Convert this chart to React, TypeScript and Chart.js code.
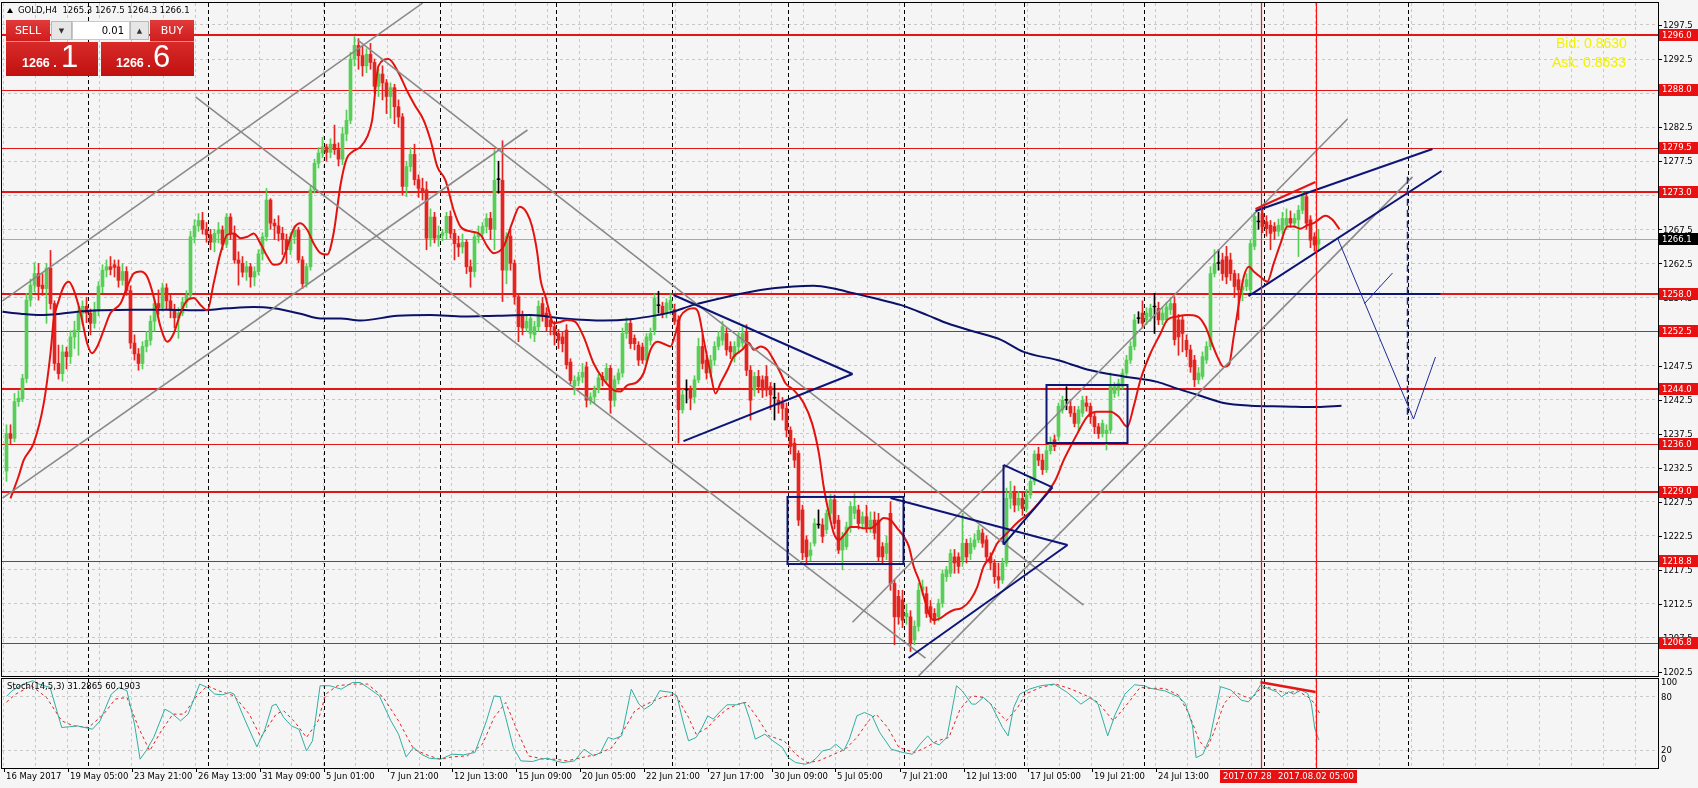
import React, { useEffect, useRef } from 'react';
import { Chart, registerables } from 'chart.js';
Chart.register(...registerables);

// ---------- DATA ----------
// [open, high, low, close] per H4 bar (bar 0 = 16 May 2017 13:00)
const candles: number[][] = [
[1232.0,1238.8,1230.5,1237.5],[1237.5,1238.8,1236.0,1236.8],[1236.8,1243.4,1236.3,1242.2],[1242.2,1243.8,1241.5,1242.7],[1242.6,1246.2,1242.2,1245.6],
[1245.6,1258.1,1245.0,1257.1],[1257.1,1260.2,1256.2,1259.3],[1259.3,1262.6,1258.3,1261.0],[1261.0,1262.5,1257.1,1259.1],[1259.3,1261.0,1257.8,1258.8],
[1258.8,1262.5,1253.7,1261.8],[1261.8,1264.4,1255.8,1256.6],[1256.6,1257.0,1246.8,1247.8],[1247.8,1250.5,1245.5,1246.3],[1246.3,1250.5,1245.2,1249.5],
[1249.5,1250.2,1247.0,1248.8],[1248.8,1252.6,1247.8,1251.7],[1251.7,1254.0,1250.0,1252.7],[1252.7,1256.2,1249.0,1255.2],[1255.2,1257.0,1253.5,1256.2],
[1256.2,1257.5,1253.8,1255.2],[1255.2,1255.8,1252.0,1253.7],[1253.7,1256.8,1253.0,1255.7],[1255.7,1259.8,1254.8,1259.1],[1259.1,1262.3,1258.2,1261.5],
[1261.5,1263.0,1260.5,1262.0],[1262.0,1263.5,1260.8,1261.6],[1262.3,1263.0,1260.5,1261.9],[1262.0,1263.0,1259.0,1260.0],[1260.0,1262.5,1259.3,1261.3],
[1261.3,1262.0,1257.8,1258.5],[1258.5,1259.2,1250.0,1250.8],[1250.8,1252.0,1248.3,1249.2],[1249.2,1250.0,1246.8,1247.8],[1247.8,1251.0,1247.0,1250.3],
[1250.3,1252.5,1249.5,1251.2],[1251.2,1254.8,1250.5,1254.0],[1254.0,1257.2,1252.5,1256.6],[1256.6,1258.6,1255.0,1256.0],[1256.0,1259.6,1255.5,1258.9],
[1258.9,1259.5,1255.8,1257.0],[1257.0,1257.8,1254.5,1255.6],[1255.6,1256.5,1253.0,1254.5],[1254.5,1256.0,1251.5,1255.2],[1255.2,1257.5,1254.8,1256.8],
[1256.8,1258.5,1256.0,1257.8],[1257.8,1267.2,1257.2,1266.4],[1266.4,1268.9,1265.5,1268.0],[1268.0,1269.8,1267.2,1268.8],[1268.8,1270.0,1266.8,1267.5],
[1267.5,1268.5,1265.6,1266.7],[1266.7,1267.5,1264.5,1265.6],[1265.6,1267.5,1264.2,1266.9],[1266.9,1268.5,1265.5,1267.4],[1267.4,1268.0,1264.5,1265.3],
[1265.3,1269.8,1264.8,1269.3],[1269.3,1269.8,1266.0,1266.9],[1266.9,1268.0,1262.5,1263.0],[1263.0,1264.2,1259.3,1262.5],[1262.5,1263.5,1260.5,1261.2],
[1261.2,1262.8,1260.0,1262.0],[1262.0,1262.5,1259.0,1260.5],[1260.5,1262.0,1259.2,1261.3],[1261.3,1264.5,1260.8,1263.9],[1263.9,1267.0,1263.0,1266.4],
[1266.4,1273.5,1265.8,1271.8],[1271.8,1272.0,1267.5,1268.4],[1268.4,1269.0,1266.0,1268.0],[1268.0,1269.5,1265.8,1266.9],[1266.9,1267.8,1263.8,1266.0],
[1266.0,1266.8,1262.5,1264.5],[1264.5,1267.0,1263.8,1266.4],[1266.4,1268.0,1265.4,1267.4],[1267.4,1267.8,1262.6,1263.0],[1263.0,1263.5,1258.8,1259.5],
[1259.5,1262.5,1259.0,1262.0],[1262.0,1273.8,1261.5,1273.3],[1273.3,1277.8,1272.8,1277.2],[1277.2,1279.5,1276.5,1278.7],[1278.7,1281.0,1278.0,1279.6],
[1279.6,1280.0,1277.5,1278.8],[1278.8,1280.8,1278.0,1280.0],[1280.0,1282.8,1278.5,1279.2],[1279.2,1280.2,1276.8,1277.8],[1277.8,1282.5,1277.0,1281.5],
[1281.5,1285.0,1280.5,1283.5],[1283.5,1293.5,1283.0,1292.5],[1292.5,1295.8,1291.5,1294.5],[1294.5,1295.5,1291.0,1293.0],[1293.0,1294.5,1290.0,1291.5],
[1291.5,1294.0,1290.5,1293.2],[1293.2,1294.8,1291.0,1292.0],[1292.0,1292.5,1287.5,1288.5],[1288.5,1291.0,1287.0,1290.3],[1290.3,1291.5,1286.5,1289.0],
[1289.0,1289.5,1284.5,1287.0],[1287.0,1289.0,1283.8,1288.3],[1288.3,1288.8,1283.0,1285.5],[1285.5,1286.5,1282.5,1284.0],[1284.0,1284.5,1272.5,1273.8],
[1273.8,1277.5,1272.3,1276.7],[1276.7,1279.5,1276.0,1278.5],[1278.5,1280.0,1274.0,1274.8],[1274.8,1275.5,1272.2,1273.5],[1273.5,1275.0,1271.8,1273.0],
[1273.3,1274.5,1264.5,1266.2],[1266.2,1270.5,1265.0,1269.3],[1269.3,1270.0,1265.5,1266.2],[1266.2,1268.0,1265.0,1266.6],[1266.6,1267.5,1265.8,1267.0],
[1267.0,1270.0,1266.0,1269.4],[1269.4,1270.2,1266.2,1266.9],[1266.9,1267.5,1263.0,1265.4],[1265.4,1266.5,1263.5,1264.9],[1264.9,1266.8,1264.0,1265.6],
[1265.6,1266.0,1261.0,1262.0],[1262.0,1263.0,1259.0,1261.3],[1261.3,1267.0,1260.5,1266.4],[1266.4,1268.0,1265.5,1266.9],[1266.9,1268.5,1266.0,1267.9],
[1267.9,1269.8,1267.0,1269.1],[1269.1,1270.0,1266.0,1267.5],[1267.5,1279.2,1264.5,1274.7],[1274.8,1277.5,1272.8,1274.8],[1274.7,1280.5,1256.9,1261.5],
[1261.5,1267.0,1259.5,1266.5],[1266.5,1267.5,1261.5,1262.5],[1262.5,1263.0,1256.5,1257.6],[1257.6,1258.0,1251.0,1253.2],[1255.0,1255.5,1252.0,1253.0],
[1253.0,1255.0,1252.5,1254.0],[1252.2,1255.0,1251.5,1254.4],[1252.0,1254.0,1251.0,1253.2],[1253.2,1257.0,1252.5,1256.2],[1256.6,1257.5,1254.0,1254.7],
[1255.2,1256.0,1252.5,1253.2],[1254.2,1255.0,1252.0,1253.2],[1253.2,1254.0,1250.5,1252.0],[1252.2,1252.8,1250.0,1251.2],[1251.7,1252.5,1249.5,1250.7],
[1252.7,1253.5,1247.0,1247.6],[1248.0,1248.5,1244.8,1245.3],[1244.5,1246.0,1243.2,1245.3],[1245.3,1246.5,1244.5,1245.8],[1245.8,1247.8,1245.0,1246.5],
[1247.3,1248.0,1241.4,1242.4],[1242.4,1243.5,1241.8,1242.9],[1242.9,1244.5,1242.0,1244.0],[1244.0,1246.2,1243.5,1245.7],[1245.9,1246.5,1244.5,1245.4],
[1245.4,1247.8,1245.0,1247.1],[1247.1,1247.5,1240.5,1242.4],[1242.4,1246.0,1241.5,1245.4],[1245.4,1247.0,1244.8,1246.4],[1246.4,1253.0,1245.8,1252.2],
[1252.2,1254.5,1251.5,1253.7],[1253.7,1254.2,1250.0,1250.7],[1251.5,1252.0,1249.8,1250.7],[1250.5,1251.0,1247.5,1248.3],[1250.2,1250.8,1247.8,1248.3],
[1248.3,1252.2,1247.8,1251.7],[1251.2,1253.0,1250.5,1252.2],[1252.7,1258.0,1252.0,1257.4],[1256.3,1258.4,1255.2,1256.3],[1256.2,1256.8,1254.5,1255.2],
[1255.2,1257.3,1254.5,1256.7],[1255.7,1258.0,1255.0,1257.1],[1255.7,1256.5,1253.5,1254.0],[1254.2,1254.8,1236.1,1241.0],[1241.0,1244.0,1240.5,1243.2],
[1243.9,1245.4,1242.0,1243.9],[1243.9,1244.5,1241.0,1242.7],[1242.9,1246.0,1242.0,1245.4],[1245.4,1251.5,1245.0,1250.3],[1250.3,1252.0,1247.0,1247.8],
[1248.3,1249.0,1245.5,1246.4],[1246.4,1249.0,1245.8,1248.3],[1248.3,1251.0,1247.5,1250.3],[1250.3,1252.5,1249.8,1251.7],[1251.2,1254.0,1250.5,1253.2],
[1252.2,1253.0,1249.0,1249.8],[1250.3,1251.0,1248.5,1249.5],[1248.8,1251.0,1248.0,1250.3],[1250.3,1252.5,1249.5,1251.7],[1250.8,1253.2,1250.2,1252.2],
[1252.5,1253.5,1246.0,1246.8],[1246.8,1247.5,1239.5,1242.4],[1243.9,1246.5,1243.0,1245.9],[1245.9,1246.8,1243.5,1244.4],[1245.4,1246.0,1242.8,1243.9],
[1245.9,1247.5,1243.0,1243.9],[1244.4,1245.0,1241.0,1243.2],[1242.7,1244.9,1239.5,1242.7],[1242.4,1243.5,1240.5,1241.7],[1242.0,1242.8,1239.5,1241.2],
[1241.2,1242.0,1237.0,1238.0],[1238.0,1238.5,1234.5,1235.6],[1236.1,1236.8,1232.5,1233.6],[1234.6,1235.0,1224.0,1224.8],[1226.3,1227.0,1219.0,1220.0],
[1221.9,1222.5,1218.5,1219.4],[1219.6,1221.5,1218.8,1220.4],[1221.4,1225.0,1221.0,1224.3],[1224.1,1226.3,1223.6,1224.1],[1224.1,1225.0,1221.5,1222.4],
[1223.4,1226.3,1222.8,1225.8],[1225.8,1228.6,1225.0,1227.8],[1227.8,1228.5,1223.5,1224.3],[1224.8,1225.5,1219.9,1220.4],[1220.4,1223.0,1217.5,1222.4],
[1220.9,1224.5,1220.5,1223.8],[1223.8,1227.5,1223.0,1226.8],[1225.8,1228.7,1225.0,1226.8],[1226.3,1227.0,1223.5,1224.3],[1224.3,1226.0,1223.5,1225.3],
[1225.3,1227.0,1223.0,1223.8],[1223.8,1226.0,1223.0,1224.8],[1224.8,1226.0,1222.0,1222.9],[1224.8,1225.8,1218.8,1219.4],[1220.9,1221.5,1218.5,1219.4],
[1219.9,1222.5,1219.0,1221.4],[1225.8,1227.5,1214.5,1215.5],[1215.5,1216.0,1206.5,1210.6],[1213.6,1214.5,1209.5,1210.6],[1213.1,1214.5,1209.0,1210.1],
[1210.6,1212.5,1209.5,1211.1],[1210.6,1211.5,1205.5,1206.7],[1207.2,1210.0,1206.5,1209.2],[1209.2,1215.5,1208.5,1214.5],[1214.5,1216.0,1213.8,1215.0],
[1214.0,1215.0,1210.5,1211.1],[1212.1,1213.0,1209.8,1210.6],[1211.1,1211.8,1209.5,1210.1],[1210.6,1213.2,1210.0,1212.6],[1212.6,1217.5,1212.0,1216.9],
[1216.5,1218.0,1215.8,1217.5],[1217.0,1220.5,1216.5,1219.9],[1219.4,1220.5,1217.0,1218.5],[1219.4,1220.0,1217.0,1218.0],[1218.9,1225.8,1218.0,1221.4],
[1221.4,1222.0,1218.5,1219.4],[1219.9,1222.2,1219.0,1221.4],[1220.9,1222.8,1220.5,1221.9],[1221.9,1224.0,1221.5,1223.3],[1222.9,1223.5,1220.8,1221.4],
[1221.9,1222.5,1218.8,1219.4],[1219.4,1220.0,1217.5,1218.5],[1218.5,1219.0,1215.5,1216.5],[1216.5,1218.5,1214.8,1216.0],[1216.0,1219.2,1215.5,1218.5],
[1218.5,1229.5,1218.0,1228.0],[1228.0,1230.5,1226.5,1229.0],[1229.0,1229.8,1226.0,1227.0],[1227.0,1229.0,1226.2,1228.0],[1228.0,1228.8,1225.5,1226.5],
[1226.5,1229.3,1226.0,1228.5],[1228.5,1231.2,1228.0,1230.5],[1230.5,1235.0,1230.0,1234.5],[1234.5,1235.5,1232.8,1233.6],[1233.6,1234.5,1231.5,1232.2],
[1232.2,1235.8,1231.8,1235.0],[1235.0,1237.0,1234.5,1236.2],[1236.6,1237.3,1235.0,1235.6],[1237.1,1242.0,1236.5,1241.5],[1241.0,1243.0,1240.5,1242.4],
[1242.4,1244.4,1241.0,1242.4],[1241.5,1242.5,1240.0,1240.5],[1240.5,1241.5,1238.5,1239.0],[1239.0,1241.5,1238.0,1241.0],[1240.5,1243.0,1240.0,1242.4],
[1242.0,1243.0,1240.8,1241.5],[1241.5,1242.0,1239.0,1240.0],[1240.0,1240.5,1237.5,1238.5],[1238.5,1239.0,1236.8,1237.5],[1237.5,1239.5,1237.0,1239.0],
[1237.5,1238.8,1235.1,1238.0],[1238.0,1246.4,1237.5,1244.4],[1243.4,1245.0,1242.8,1244.4],[1243.9,1245.5,1243.0,1244.9],[1244.4,1247.0,1244.0,1246.4],
[1246.4,1249.0,1246.0,1248.3],[1248.3,1251.0,1247.8,1250.3],[1250.3,1255.0,1249.8,1254.2],[1254.4,1255.4,1253.7,1254.4],[1255.2,1257.0,1253.0,1253.7],
[1254.2,1256.0,1253.5,1255.2],[1254.7,1256.5,1254.0,1255.9],[1256.1,1258.1,1252.2,1256.1],[1255.9,1256.8,1253.5,1254.2],[1254.2,1256.0,1253.5,1255.2],
[1254.2,1256.8,1253.8,1256.1],[1255.7,1257.5,1255.0,1256.6],[1256.6,1257.6,1250.5,1251.3],[1254.2,1255.0,1249.0,1251.7],[1254.2,1254.8,1249.5,1252.2],
[1251.2,1252.0,1248.8,1249.8],[1249.8,1250.5,1246.5,1247.3],[1248.3,1249.0,1244.4,1245.4],[1245.4,1247.2,1244.8,1246.4],[1245.9,1249.5,1245.5,1248.8],
[1248.3,1251.0,1247.8,1250.3],[1250.3,1262.0,1249.8,1261.0],[1261.0,1264.5,1260.5,1262.5],[1262.5,1264.5,1261.5,1262.5],[1263.0,1264.0,1260.0,1261.0],
[1263.5,1265.0,1259.5,1260.5],[1263.0,1264.0,1260.0,1261.0],[1261.0,1261.5,1257.5,1259.1],[1260.1,1261.0,1254.2,1258.6],[1258.6,1260.0,1257.0,1259.1],
[1259.1,1261.0,1258.5,1260.1],[1258.6,1266.0,1258.0,1265.4],[1265.0,1270.0,1264.5,1269.4],[1268.6,1270.0,1267.5,1268.6],[1269.8,1270.8,1267.0,1267.9],
[1268.6,1269.5,1266.5,1267.6],[1268.1,1268.8,1264.5,1266.9],[1267.9,1268.5,1266.0,1267.2],[1267.2,1269.0,1266.5,1268.1],[1267.4,1270.0,1266.8,1269.1],
[1268.1,1270.5,1267.5,1269.1],[1269.1,1270.2,1267.8,1268.4],[1268.4,1269.8,1267.8,1269.1],[1268.9,1271.0,1263.5,1270.3],[1270.3,1273.0,1269.8,1272.5],
[1272.3,1273.0,1267.5,1268.4],[1268.9,1269.5,1264.8,1265.9],[1266.4,1267.0,1264.3,1265.2],[1265.3,1267.5,1264.3,1266.1]
];

// shifted moving averages, [bar, price]
const redMA: number[][] = [
[1,1228.0],[3,1231.2],[4.3,1233.6],[6.8,1236.1],[9.3,1241.9],[11,1249.3],[11.8,1254.2],[13.1,1257.1],[14.3,1259.1],[15.6,1259.8],
[16.8,1258.6],[18.5,1255.2],[20.2,1250.7],[21.4,1249.3],[22.7,1250.3],[24.3,1252.7],[26,1255.2],[28.5,1256.6],[30.2,1259.1],[31.8,1261.0],
[33.5,1261.3],[35.2,1260.5],[36.8,1257.6],[38.5,1253.2],[40.2,1251.0],[41.8,1252.2],[43.5,1255.2],[45.2,1257.1],[46.8,1257.4],[48.5,1256.4],
[50.2,1255.6],[51.8,1259.6],[53.5,1264.0],[55.2,1266.7],[56.8,1266.9],[58.5,1266.2],[60.2,1266.4],[61.8,1266.9],[63.5,1265.4],[65.2,1263.5],
[66.8,1262.3],[68.5,1262.5],[70.2,1264.9],[71.8,1267.6],[73.5,1268.4],[75.2,1267.4],[76.8,1265.4],[78.5,1264.0],[80.2,1263.8],[81.8,1267.0],
[83.5,1274.0],[85,1277.8],[86.5,1278.9],[88.5,1279.6],[90.2,1281.1],[91.4,1283.5],[93,1291.5],[95.5,1292.5],[98,1290.5],[100,1288.0],
[102,1285.8],[104.3,1283.5],[106,1280.6],[107.7,1276.7],[109.75,1274.7],[111.8,1270.3],[113.5,1267.9],[116,1267.2],[118.5,1266.7],[120.2,1265.0],
[121.8,1264.0],[124.3,1265.0],[126.4,1268.4],[128.3,1270.8],[130.2,1269.8],[131.4,1267.9],[132.7,1264.0],[133.5,1260.1],[134.75,1257.6],[136.8,1253.7],
[138.5,1253.9],[140.2,1254.2],[142.25,1253.9],[144.3,1251.7],[146.8,1247.8],[149.3,1245.4],[151.8,1243.9],[153.5,1243.7],[155.2,1244.6],[157.7,1245.1],
[159.3,1246.4],[161,1249.8],[162.7,1251.0],[164.3,1250.7],[166,1250.3],[167.25,1252.2],[168.5,1254.7],[170.2,1255.7],[171.8,1255.9],[173,1255.2],
[174.3,1251.3],[176,1246.4],[177.25,1243.4],[178.5,1244.9],[180.2,1246.8],[181.8,1248.8],[183.9,1249.8],[185.6,1250.8],[186.8,1249.8],[188.5,1250.3],
[190.2,1249.8],[191.8,1248.3],[193.5,1246.4],[194.75,1244.9],[196.8,1243.9],[199.3,1242.0],[201.4,1239.0],[203.1,1234.6],[204.3,1229.7],[205.6,1225.8],
[206.8,1222.9],[208.1,1221.9],[209.75,1222.9],[211,1223.8],[212.7,1223.8],[214.3,1223.6],[216,1223.6],[217.7,1224.3],[219.3,1225.1],[221,1224.8],
[222.7,1223.6],[224.3,1222.4],[225.6,1220.9],[226.8,1218.0],[228.1,1216.0],[229.3,1213.6],[230.6,1211.1],[231.8,1210.1],[233.5,1210.4],[235.2,1211.1],
[236.8,1211.6],[238.9,1211.9],[241,1213.1],[242.7,1215.0],[244.3,1218.0],[246,1219.4],[247.7,1221.4],[250,1222.8],[253,1224.6],[256,1226.0],
[259,1228.0],[262.25,1230.7],[264.3,1233.6],[266,1235.6],[267.7,1237.5],[270.2,1240.0],[272.7,1240.7],[276,1240.7],[278,1240.0],[280.2,1238.5],
[281.8,1241.5],[283.5,1245.4],[286,1249.3],[288.5,1252.2],[290.2,1254.2],[292.7,1254.7],[295.2,1254.9],[297.7,1254.7],[299.75,1253.2],[301,1251.3],
[302.7,1248.8],[304.3,1247.3],[305.6,1247.6],[306.8,1251.7],[308.1,1256.6],[309.3,1260.5],[310.6,1262.0],[311.8,1261.3],[313.5,1260.5],[315.2,1259.8],
[316.8,1262.5],[318.5,1265.4],[320.2,1267.9],[321.8,1267.9],[323.5,1267.6],[325.2,1268.1],[326.8,1268.4],[329.75,1269.5],[331.5,1268.9],[333.25,1267.5]
];
const navyMA: number[][] = [
[-1,1255.4],[3.5,1255.1],[8.5,1254.9],[13.5,1255.1],[17.7,1255.4],[23.5,1255.6],[31.8,1255.7],[40.2,1255.7],[48.5,1255.6],[55.2,1255.9],
[61.8,1256.1],[66.8,1255.9],[73.5,1255.1],[78.5,1254.4],[83.5,1254.4],[88.5,1254.1],[97.7,1254.8],[106,1254.9],[114.3,1254.7],[122.7,1254.8],
[131,1254.9],[139.3,1254.4],[149.3,1254.1],[156,1254.3],[162.7,1254.9],[166,1255.3],[171.8,1256.4],[180.2,1257.6],[188.5,1258.6],[196.8,1259.1],
[201.8,1259.2],[206.8,1258.8],[211.8,1258.1],[216.8,1257.4],[223.5,1256.4],[230.2,1254.9],[235.2,1253.7],[241.8,1252.5],[248.5,1251.3],[254.3,1249.5],
[262.7,1248.3],[271,1246.8],[279.3,1245.9],[287.7,1245.1],[292.7,1244.1],[297.7,1243.2],[304.3,1242.0],[311,1241.6],[319.3,1241.5],[327.7,1241.4],[333.75,1241.6]
];

// Stochastic(14,5,3): [bar, value]
const stochK: number[][] = [
[0,80.5],[1.4,86.8],[4.2,94.3],[6.6,98],[8.1,94.3],[10.9,90.5],[13.8,45.5],[15.7,46.3],[17.6,47.4],[21.5,43.6],[23.4,53],[26.2,83],[28.2,90.5],[30.1,86.8],
[32,49.3],[33.4,9.9],[34.9,19.3],[36.8,34.3],[39.6,66.1],[41.1,62.4],[43.5,53],[45.4,60.5],[48.3,94.3],[50.2,90.5],[52.1,83],[54,82.3],[55.9,84.9],[56.9,83],
[59.7,53],[62.6,23.8],[64.5,41.8],[66.4,69.9],[67.4,71.8],[69.3,56.8],[71.2,47.4],[73.1,43.6],[75,19.3],[76.5,30.5],[78.4,92.4],[80.8,92.4],[83.7,88.6],
[86.5,96.1],[88.4,96.1],[90.3,90.5],[93.2,81.1],[96.1,53],[98,38],[99.9,12.5],[101.8,23],[103.7,15.5],[105.7,11],[108.5,9.9],[111.4,15.5],[114.3,14.8],
[117.1,17.4],[120,53],[121.9,81.1],[123.4,80],[124.8,56.8],[126.7,23],[128.6,8],[131.5,7.3],[133.4,9.9],[135.3,11],[137.2,8],[139.1,6.1],[142,8],[144.4,21.1],
[146.8,13.6],[148.5,17.4],[150.4,34.3],[151.8,32.4],[153.8,36.1],[156.2,88.6],[158.1,71.8],[159.5,66.1],[161.4,71.8],[163.3,86.8],[166.2,84.9],[167.6,81.1],
[169.1,53],[170.5,30.5],[172.4,34.3],[173.9,45.5],[175.3,58.6],[176.7,54.9],[178.2,62.4],[180.1,71],[182.5,71],[184.4,73.6],[185.8,54.9],[187.2,32.4],
[189.6,38],[191.6,30.5],[194,23],[195.4,11.8],[197.3,6.1],[199.7,4.3],[201.1,6.1],[202.6,11.8],[204,19.3],[205.9,21.1],[207.3,26.8],[209.3,19.3],[210.7,32.4],
[212.6,58.6],[214.5,62.4],[216.4,58.6],[218.3,39.9],[221.2,21.1],[224.1,17.4],[226.5,15.5],[228.4,26.8],[230.3,36.1],[231.7,28.6],[233.2,26],[235.1,34.3],
[237.5,92.4],[238.9,86.8],[241.3,71.8],[242.3,71.8],[244.2,79.3],[246.1,71.8],[249,45.5],[250.4,36.1],[251.8,68],[253.3,83],[255.7,88.6],[258.5,92.4],
[261.9,94.3],[265.2,84.9],[268.6,71.8],[271,79.3],[272.9,71.8],[275.3,36.1],[277.2,60.5],[279.6,83],[282,93.5],[284.4,92.4],[286,89.5],[289.5,86.8],[293,80],
[294.7,72.4],[296.5,47.7],[297.4,11.6],[299.1,15.4],[300.9,34.4],[303.5,91.4],[306.1,87.6],[308.7,76.2],[310.5,74.3],[312.2,83.8],[313.5,93.3],[315.3,89.5],
[317.5,85.7],[318.8,80],[320.5,85.7],[321.8,83],[323.6,87.6],[325.3,83.8],[326.2,72.4],[327.1,43.9],[328.1,31.3]
];
const stochD: number[][] = [
[0,74],[2.3,83],[6.2,92.4],[10,79.3],[13.8,53],[16.7,47.4],[20.5,45.5],[24.3,60.5],[27.2,77.4],[30.1,79.3],[33,45.5],[35.8,19.3],[38.7,41.8],[41.6,60.5],
[44.4,60.5],[47.3,79.3],[50.2,92.4],[53,86.8],[56.9,81.1],[60.7,60.5],[63.6,34.3],[67.4,60.5],[69.3,64.3],[72.2,51.1],[75,34.3],[77.9,53],[79.8,83],[82.7,92.4],
[86.5,94.3],[90.3,94.3],[94.2,79.3],[98,53],[101.8,21.1],[105.7,13.6],[108.5,9.9],[111.4,12.5],[115.2,13.6],[119,26.8],[121.9,56.8],[124.8,73.6],[127.7,41.8],
[130.5,13.6],[134.4,9.9],[137.2,9.9],[140.1,8],[143.9,11.8],[147.8,15.5],[151.4,23],[154.2,41.8],[157.1,64.3],[160,71.8],[163.8,79.3],[167.2,83],[170.5,56.8],
[172.4,38],[175.3,45.5],[177.2,54.9],[180.1,66.1],[182.9,71.8],[184.9,73.6],[187.7,56.8],[190.6,36.1],[194.4,30.5],[197.3,15.5],[200.2,6.1],[203,8],[205.9,13.6],
[209.7,21.1],[212.6,34.3],[215.5,53],[217.4,60.5],[220.3,45.5],[223.1,23],[227,17.4],[229.8,23],[232.7,30.5],[235.6,34.3],[238.4,66.1],[241.3,81.1],[244.2,79.3],
[247,68],[249.9,53],[252.8,68],[254.7,83],[258.5,90.5],[262.3,94.3],[266.2,88.6],[270,81.1],[272.9,73.6],[276.7,53],[280.5,73.6],[283.4,90.5],[286,89.5],
[289.5,89.5],[293,81.9],[295.6,61],[298.2,30.6],[300,21.1],[301.7,38.2],[304.4,72.4],[307,85.7],[309.6,80],[311.3,78.1],[313.1,87.6],[314.8,91.4],[317.5,87.6],
[320.1,83.8],[322.7,86.8],[325.3,80],[327.1,72.4],[328.4,60.2]
];

const priceTicks = [1297.5,1292.5,1287.5,1282.5,1277.5,1272.5,1267.5,1262.5,1257.5,1252.5,1247.5,1242.5,1237.5,1232.5,1227.5,1222.5,1217.5,1212.5,1207.5,1202.5];
const levelPrices = [1296.0,1288.0,1279.5,1273.0,1258.0,1252.5,1244.0,1236.0,1229.0,1218.8,1206.8];
const boldLevels = [1296.0,1273.0,1258.0,1244.0,1229.0];
const bidPrice = 1266.1;
const timeLabels = ['16 May 2017','19 May 05:00','23 May 21:00','26 May 13:00','31 May 09:00','5 Jun 01:00','7 Jun 21:00','12 Jun 13:00','15 Jun 09:00','20 Jun 05:00','22 Jun 21:00','27 Jun 17:00','30 Jun 09:00','5 Jul 05:00','7 Jul 21:00','12 Jul 13:00','17 Jul 05:00','19 Jul 21:00','24 Jul 13:00'];
const labelBars = [-0.75,15.25,31.25,47.25,63.25,79.25,95.25,111.25,127.25,143.25,159.25,175.25,191.25,207.25,223.25,239.25,255.25,271.25,287.25];
const weekBars = [20.25,50.25,79.25,108.25,137.25,166.25,195.25,224.25,254.25,284.25,314.25,350.25];
const stochLevels = [80, 20];

// drawn objects, endpoints in [bar, price]
const channelLines = [
  [[-1,1257.0],[104,1300.7]], [[-1,1228.04],[130.25,1282.08]],
  [[47.25,1286.93],[229.75,1204.55]], [[87.75,1295.3],[269.25,1212.3]],
  [[211.5,1209.8],[335.25,1283.7]], [[228,1201.9],[351.5,1275.2]]
];
const navyLines = [
  [[166.75,1257.85],[211.5,1246.25]], [[169.25,1236.4],[211.5,1246.25]],
  [[221,1228.04],[265.25,1221.14]], [[225.5,1204.55],[265.25,1221.14]],
  [[249.25,1232.9],[249.25,1221.2]], [[249.25,1232.9],[261.5,1229.6]], [[249.25,1221.2],[261.5,1229.6]],
  [[312.25,1270.19],[356.5,1279.3]], [[310.5,1257.7],[358.75,1276.06]],
  [[310.5,1258.0],[358.5,1258.0]]
];
const navyBoxes = [[195.25,1228.2,224.25,1218.35],[260,1244.64,280.25,1236.12]];
const projectionLines = [
  [[332.75,1266.22],[351.75,1239.64]], [[351.75,1239.64],[357.25,1248.75]], [[339.5,1256.6],[346.5,1261.08]]
];
const projectionDashed = [[350.25,1275.2],[350.25,1239.6]];
const redTrend = [[312.25,1270.48],[327.25,1274.45]];
const redVerticalBars = [313.5, 327.25];
const redVerticalLabels = ['2017.07.28 21:00', '2017.08.02 05:00'];
const stochTrend = [[313.5,96.3],[327.25,85.4]];

// ---------- STYLE ----------
const BG = '#f5f5f5';
const GRID = '#c9c9c9';
const BULL = '#57cf57';
const BEAR = '#e52420';
const LEVEL = '#e31616';
const NAVY = '#0d1577';
const AXFONT = '8.5px "DejaVu Sans"';
const XMIN = -1.125, XMAX = 412.875;

const candleColor = (i: number) => {
  const [o, , , c] = candles[i];
  return c > o ? BULL : c < o ? BEAR : '#000000';
};

function seg(ctx: CanvasRenderingContext2D, x: any, y: any, a: number[], b: number[]) {
  ctx.beginPath();
  ctx.moveTo(x.getPixelForValue(a[0]), y.getPixelForValue(a[1]));
  ctx.lineTo(x.getPixelForValue(b[0]), y.getPixelForValue(b[1]));
  ctx.stroke();
}

const xScaleCommon = (gridBars: number[]) => ({
  type: 'linear' as const, min: XMIN, max: XMAX, offset: false,
  ticks: { display: false },
  grid: { color: GRID, lineWidth: 1, drawTicks: false, offset: false },
  border: { display: false, dash: [3, 3] },
  afterBuildTicks: (s: any) => { s.ticks = gridBars.map(v => ({ value: v })); },
});

const mainPlugin = {
  id: 'mainObjects',
  beforeDraw(chart: any) {
    const { ctx } = chart;
    ctx.save(); ctx.fillStyle = BG; ctx.fillRect(0, 0, chart.width, chart.height); ctx.restore();
  },
  beforeDatasetsDraw(chart: any) {
    const { ctx, chartArea: a, scales: { x, y } } = chart;
    ctx.save();
    ctx.beginPath(); ctx.rect(a.left, a.top, a.right - a.left, a.bottom - a.top); ctx.clip();
    ctx.strokeStyle = '#000'; ctx.lineWidth = 1; ctx.setLineDash([4, 3]);
    weekBars.forEach(b => { const px = Math.round(x.getPixelForValue(b)) + 0.5; ctx.beginPath(); ctx.moveTo(px, a.top); ctx.lineTo(px, a.bottom); ctx.stroke(); });
    ctx.setLineDash([]);
    ctx.strokeStyle = '#a8a8a8'; ctx.lineWidth = 1;
    { const py = Math.round(y.getPixelForValue(bidPrice)) + 0.5; ctx.beginPath(); ctx.moveTo(a.left, py); ctx.lineTo(a.right, py); ctx.stroke(); }
    ctx.strokeStyle = LEVEL;
    levelPrices.forEach(p => {
      const bold = boldLevels.includes(p);
      ctx.lineWidth = bold ? 2 : 1;
      const py = bold ? Math.round(y.getPixelForValue(p)) : Math.round(y.getPixelForValue(p)) + 0.5;
      ctx.beginPath(); ctx.moveTo(a.left, py); ctx.lineTo(a.right, py); ctx.stroke();
    });
    ctx.restore();
  },
  afterDatasetsDraw(chart: any) {
    const { ctx, chartArea: a, scales: { x, y } } = chart;
    ctx.save();
    ctx.beginPath(); ctx.rect(a.left, a.top, a.right - a.left, a.bottom - a.top); ctx.clip();
    ctx.lineCap = 'butt';
    ctx.strokeStyle = '#8a8a8a'; ctx.lineWidth = 1.6;
    channelLines.forEach(l => seg(ctx, x, y, l[0], l[1]));
    ctx.strokeStyle = NAVY; ctx.lineWidth = 2;
    navyLines.forEach(l => seg(ctx, x, y, l[0], l[1]));
    navyBoxes.forEach(b => {
      const x1 = x.getPixelForValue(b[0]), y1 = y.getPixelForValue(b[1]);
      const x2 = x.getPixelForValue(b[2]), y2 = y.getPixelForValue(b[3]);
      ctx.strokeRect(x1, y1, x2 - x1, y2 - y1);
    });
    ctx.strokeStyle = '#1f2c96'; ctx.lineWidth = 1;
    projectionLines.forEach(l => seg(ctx, x, y, l[0], l[1]));
    ctx.lineWidth = 1.5; ctx.setLineDash([7, 4]);
    seg(ctx, x, y, projectionDashed[0], projectionDashed[1]);
    ctx.setLineDash([]);
    ctx.strokeStyle = LEVEL; ctx.lineWidth = 2;
    seg(ctx, x, y, redTrend[0], redTrend[1]);
    ctx.strokeStyle = '#ff1010'; ctx.lineWidth = 1.2;
    redVerticalBars.forEach(b => { const px = Math.round(x.getPixelForValue(b)) + 0.5; ctx.beginPath(); ctx.moveTo(px, a.top); ctx.lineTo(px, a.bottom); ctx.stroke(); });
    ctx.restore();
  },
  afterDraw(chart: any) {
    const { ctx, chartArea: a, scales: { y } } = chart;
    ctx.save();
    ctx.strokeStyle = '#000'; ctx.lineWidth = 1;
    ctx.strokeRect(a.left - 0.5, a.top - 0.5, a.right - a.left + 1, a.bottom - a.top + 1);
    ctx.font = AXFONT; ctx.textBaseline = 'middle'; ctx.textAlign = 'left'; ctx.fillStyle = '#000';
    priceTicks.forEach(v => {
      const py = y.getPixelForValue(v);
      ctx.fillRect(a.right + 1, Math.round(py), 3, 1);
      ctx.fillText(v.toFixed(1), a.right + 5, py + 1);
    });
    levelPrices.forEach(p => {
      const py = y.getPixelForValue(p);
      ctx.fillStyle = '#e81010'; ctx.fillRect(a.right + 1, Math.round(py) - 6, 39, 12);
      ctx.fillStyle = '#fff'; ctx.fillText(p.toFixed(1), a.right + 4, py + 0.5);
    });
    { const py = y.getPixelForValue(bidPrice);
      ctx.fillStyle = '#000'; ctx.fillRect(a.right + 1, Math.round(py) - 6, 39, 12);
      ctx.fillStyle = '#fff'; ctx.fillText(bidPrice.toFixed(1), a.right + 4, py + 0.5); }
    ctx.fillStyle = '#000';
    ctx.beginPath(); ctx.moveTo(7, 13); ctx.lineTo(13, 13); ctx.lineTo(10, 8); ctx.closePath(); ctx.fill();
    ctx.font = AXFONT; ctx.fillText('GOLD,H4  1265.3 1267.5 1264.3 1266.1', 18, 11);
    ctx.font = '14px "Liberation Sans"'; ctx.fillStyle = '#f2f200';
    ctx.fillText('Bid: 0.8630', 1556, 44);
    ctx.fillText('Ask: 0.8633', 1552, 63);
    ctx.restore();
  }
};

const stochPlugin = {
  id: 'stochObjects',
  beforeDraw(chart: any) {
    const { ctx } = chart;
    ctx.save(); ctx.fillStyle = BG; ctx.fillRect(0, 0, chart.width, chart.height); ctx.restore();
  },
  beforeDatasetsDraw(chart: any) {
    const { ctx, chartArea: a, scales: { x } } = chart;
    ctx.save();
    ctx.strokeStyle = '#000'; ctx.lineWidth = 1; ctx.setLineDash([4, 3]);
    weekBars.forEach(b => { const px = Math.round(x.getPixelForValue(b)) + 0.5; ctx.beginPath(); ctx.moveTo(px, 0); ctx.lineTo(px, a.bottom); ctx.stroke(); });
    ctx.setLineDash([]);
    ctx.restore();
  },
  afterDatasetsDraw(chart: any) {
    const { ctx, chartArea: a, scales: { x, y } } = chart;
    ctx.save();
    ctx.strokeStyle = '#ff1010'; ctx.lineWidth = 1.2;
    redVerticalBars.forEach(b => { const px = Math.round(x.getPixelForValue(b)) + 0.5; ctx.beginPath(); ctx.moveTo(px, 0); ctx.lineTo(px, a.bottom); ctx.stroke(); });
    ctx.strokeStyle = LEVEL; ctx.lineWidth = 2.5;
    seg(ctx, x, y, stochTrend[0], stochTrend[1]);
    ctx.restore();
  },
  afterDraw(chart: any) {
    const { ctx, chartArea: a, scales: { x, y } } = chart;
    ctx.save();
    ctx.strokeStyle = '#000'; ctx.lineWidth = 1;
    ctx.strokeRect(a.left - 0.5, 0.5, a.right - a.left + 1, a.bottom);
    ctx.font = AXFONT; ctx.textBaseline = 'middle'; ctx.textAlign = 'left'; ctx.fillStyle = '#000';
    ctx.fillText('Stoch(14,5,3) 31.2865 60.1903', 7, 9);
    ctx.fillText('100', a.right + 3, 5);
    ctx.fillText('80', a.right + 3, y.getPixelForValue(80) + 1);
    ctx.fillText('20', a.right + 3, y.getPixelForValue(20) + 1);
    ctx.fillText('0', a.right + 3, 82);
    timeLabels.forEach((t, k) => {
      const px = Math.round(x.getPixelForValue(labelBars[k]));
      ctx.fillRect(px, a.bottom, 1, 4);
      ctx.fillText(t, px + 2, 99);
    });
    redVerticalBars.forEach((b, k) => {
      const px = x.getPixelForValue(b);
      const txt = redVerticalLabels[k];
      const w = ctx.measureText(txt).width + 6;
      ctx.fillStyle = '#e81010'; ctx.fillRect(Math.round(px - w / 2), 92, Math.round(w), 13);
      ctx.fillStyle = '#fff'; ctx.fillText(txt, Math.round(px - w / 2) + 3, 99);
    });
    ctx.restore();
  }
};

function TradePanel() {
  const redTop = 'linear-gradient(#e23a3a, #cf1d1d)';
  const redBig = 'linear-gradient(#d92a2a, #c01010)';
  const base: React.CSSProperties = { position: 'absolute', boxSizing: 'border-box', fontFamily: '"DejaVu Sans", sans-serif' };
  return (
    <div style={{ position: 'absolute', left: 6, top: 20, width: 188, height: 56 }}>
      <div style={{ ...base, left: 0, top: 0, width: 44, height: 22, background: redTop, color: '#fff', fontSize: 11, display: 'flex', alignItems: 'center', justifyContent: 'center', borderBottom: '1px solid #f08a8a' }}>SELL</div>
      <div style={{ ...base, left: 45, top: 1, width: 21, height: 19, background: '#e6e6e6', border: '1px solid #b9b9b9', fontSize: 7, color: '#333', display: 'flex', alignItems: 'center', justifyContent: 'center' }}>▼</div>
      <div style={{ ...base, left: 66, top: 1, width: 58, height: 19, background: '#fff', border: '1px solid #c9c9c9', fontSize: 10, color: '#000', display: 'flex', alignItems: 'center', justifyContent: 'flex-end', paddingRight: 5 }}>0.01</div>
      <div style={{ ...base, left: 124, top: 1, width: 19, height: 19, background: '#e6e6e6', border: '1px solid #b9b9b9', fontSize: 7, color: '#333', display: 'flex', alignItems: 'center', justifyContent: 'center' }}>▲</div>
      <div style={{ ...base, left: 144, top: 0, width: 44, height: 22, background: redTop, color: '#fff', fontSize: 11, display: 'flex', alignItems: 'center', justifyContent: 'center', borderBottom: '1px solid #f08a8a' }}>BUY</div>
      <div style={{ ...base, left: 0, top: 22, width: 92, height: 34, background: redBig, color: '#fff' }}>
        <span style={{ position: 'absolute', left: 16, top: 14, fontSize: 12.5, fontWeight: 'bold', fontFamily: '"Liberation Sans", sans-serif' }}>1266 .</span>
        <span style={{ position: 'absolute', left: 55, top: -3, fontSize: 31, fontFamily: '"Liberation Sans", sans-serif' }}>1</span>
      </div>
      <div style={{ ...base, left: 95, top: 22, width: 93, height: 34, background: redBig, color: '#fff' }}>
        <span style={{ position: 'absolute', left: 15, top: 14, fontSize: 12.5, fontWeight: 'bold', fontFamily: '"Liberation Sans", sans-serif' }}>1266 .</span>
        <span style={{ position: 'absolute', left: 52, top: -3, fontSize: 31, fontFamily: '"Liberation Sans", sans-serif' }}>6</span>
      </div>
    </div>
  );
}

export default function App() {
  const mainRef = useRef<HTMLCanvasElement>(null);
  const stochRef = useRef<HTMLCanvasElement>(null);

  useEffect(() => {
    document.body.style.margin = '0';
    document.body.style.background = BG;
    const gridBars: number[] = [];
    for (let v = -0.75; v < XMAX; v += 8) gridBars.push(v);

    const bodies = candles.map((c, i) => {
      const lo = Math.min(c[0], c[3]); const hi = Math.max(c[0], c[3]);
      return { x: i, y: [lo, hi - lo < 0.12 ? lo + 0.12 : hi] };
    });
    const wicks = candles.map((c, i) => ({ x: i, y: [c[2], c[1]] }));
    const colors = candles.map((_, i) => candleColor(i));

    const main = new Chart(mainRef.current!, {
      type: 'bar',
      data: {
        datasets: [
          { type: 'line', data: redMA.map(([x, y]) => ({ x, y })), borderColor: '#e3120e', borderWidth: 2, pointRadius: 0, cubicInterpolationMode: 'monotone', order: 1 } as any,
          { type: 'line', data: navyMA.map(([x, y]) => ({ x, y })), borderColor: '#0b1168', borderWidth: 2, pointRadius: 0, cubicInterpolationMode: 'monotone', order: 2 } as any,
          { type: 'bar', data: bodies as any, backgroundColor: colors, barThickness: 3, grouped: false, order: 3 } as any,
          { type: 'bar', data: wicks as any, backgroundColor: colors, barThickness: 1, grouped: false, order: 4 } as any,
        ]
      },
      options: {
        animation: false, responsive: false, maintainAspectRatio: false, devicePixelRatio: 1,
        layout: { padding: { left: 2, top: 3, right: 0, bottom: 2 } },
        plugins: { legend: { display: false }, tooltip: { enabled: false } },
        events: [],
        scales: {
          x: { ...xScaleCommon(gridBars), afterFit: (s: any) => { s.height = 0; } } as any,
          y: {
            position: 'right', min: 1201.91, max: 1300.73,
            ticks: { display: false },
            grid: { color: GRID, lineWidth: 1, drawTicks: false },
            border: { display: false, dash: [3, 3] },
            afterBuildTicks: (s: any) => { s.ticks = priceTicks.map(v => ({ value: v })); },
            afterFit: (s: any) => { s.width = 40; },
          } as any,
        }
      },
      plugins: [mainPlugin]
    });

    const stoch = new Chart(stochRef.current!, {
      type: 'line',
      data: {
        datasets: [
          { data: stochK.map(([x, y]) => ({ x, y })), borderColor: '#2fb0a2', borderWidth: 1, pointRadius: 0, tension: 0 },
          { data: stochD.map(([x, y]) => ({ x, y })), borderColor: '#e02424', borderWidth: 1, borderDash: [3, 3], pointRadius: 0, tension: 0 },
        ]
      },
      options: {
        animation: false, responsive: false, maintainAspectRatio: false, devicePixelRatio: 1,
        layout: { padding: { left: 2, top: 1, right: 0, bottom: 0 } },
        plugins: { legend: { display: false }, tooltip: { enabled: false } },
        events: [],
        scales: {
          x: { ...xScaleCommon(gridBars), afterFit: (s: any) => { s.height = 20; } } as any,
          y: {
            position: 'right', min: 0, max: 100,
            ticks: { display: false },
            grid: { color: GRID, lineWidth: 1, drawTicks: false },
            border: { display: false, dash: [3, 3] },
            afterBuildTicks: (s: any) => { s.ticks = stochLevels.map(v => ({ value: v })); },
            afterFit: (s: any) => { s.width = 40; },
          } as any,
        }
      },
      plugins: [stochPlugin]
    });

    return () => { main.destroy(); stoch.destroy(); };
  }, []);

  return (
    <div style={{ position: 'relative', width: 1698, height: 788, background: BG, overflow: 'hidden' }}>
      <canvas ref={mainRef} width={1698} height={678} style={{ position: 'absolute', left: 0, top: 0, width: 1698, height: 678 }} />
      <canvas ref={stochRef} width={1698} height={110} style={{ position: 'absolute', left: 0, top: 678, width: 1698, height: 110 }} />
      <TradePanel />
    </div>
  );
}
